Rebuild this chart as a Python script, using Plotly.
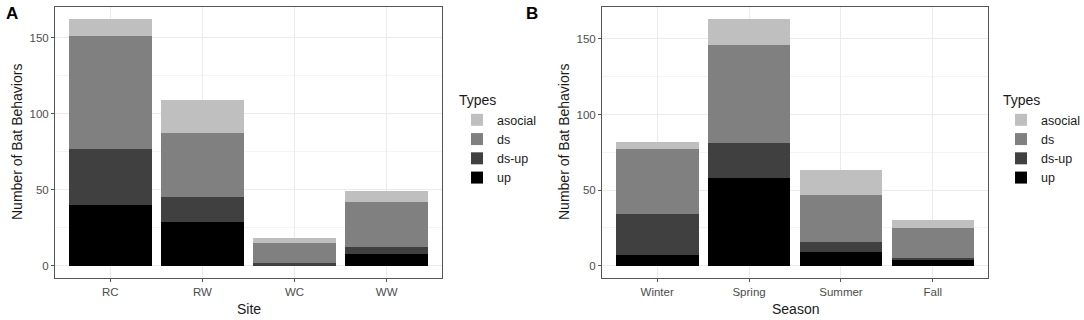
import plotly.graph_objects as go

types = ["up", "ds-up", "ds", "asocial"]
colors = {"up": "#000000", "ds-up": "#404040", "ds": "#808080", "asocial": "#bfbfbf"}

sites = ["RC", "RW", "WC", "WW"]
site_up = [40, 29, 0, 8]
site_dsup = [37, 16, 2, 4]
site_ds = [74, 42, 13, 30]
site_asocial = [11, 22, 3, 7]

seasons = ["Winter", "Spring", "Summer", "Fall"]
season_up = [7, 58, 9, 4]
season_dsup = [27, 23, 7, 1]
season_ds = [43, 65, 31, 20]
season_asocial = [5, 17, 16, 5]

site_vals = {"up": site_up, "ds-up": site_dsup, "ds": site_ds, "asocial": site_asocial}
season_vals = {"up": season_up, "ds-up": season_dsup, "ds": season_ds, "asocial": season_asocial}

fig = go.Figure()
for t in types:
    fig.add_trace(go.Bar(x=sites, y=site_vals[t], name=t, marker_color=colors[t],
                         marker_line_width=0, xaxis="x", yaxis="y", legend="legend",
                         width=0.9))
for t in types:
    fig.add_trace(go.Bar(x=seasons, y=season_vals[t], name=t, marker_color=colors[t],
                         marker_line_width=0, xaxis="x2", yaxis="y2", legend="legend2",
                         width=0.9))

W, H = 1084, 320
ax_common = dict(showline=True, mirror=True, linecolor="#555555", linewidth=1,
                 ticks="outside", ticklen=3, tickcolor="#555555",
                 tickfont=dict(family="Liberation Sans, Arial", size=11.5, color="#4d4d4d"),
                 showgrid=True, gridcolor="#ebebeb", gridwidth=1, zeroline=False)

yax = dict(ax_common, range=[-8.1, 170.1], tickvals=[0, 50, 100, 150],
           minor=dict(showgrid=True, gridcolor="#f4f4f4", tickvals=[25, 75, 125], ticks=""))
yax2 = dict(ax_common, range=[-8.15, 171.15], tickvals=[0, 50, 100, 150],
            minor=dict(showgrid=True, gridcolor="#f4f4f4", tickvals=[25, 75, 125], ticks=""))

legend_common = dict(xanchor="left", yanchor="top", traceorder="reversed",
                     xref="container", yref="container",
                     title=dict(text="Types", font=dict(size=14, color="#1a1a1a")),
                     font=dict(size=12.5, color="#1a1a1a"), bgcolor="rgba(0,0,0,0)")

fig.update_layout(
    width=W, height=H, margin=dict(l=0, r=0, t=0, b=0, autoexpand=False),
    paper_bgcolor="white", plot_bgcolor="white",
    barmode="stack", bargap=0.1,
    font=dict(family="Liberation Sans, Arial", color="#1a1a1a"),
    xaxis=dict(ax_common, domain=[55 / W, 442 / W], anchor="y", range=[-0.6, 3.6]),
    yaxis=dict(yax, domain=[1 - 278 / H, 1 - 7 / H], anchor="x"),
    xaxis2=dict(ax_common, domain=[602 / W, 988 / W], anchor="y2", range=[-0.6, 3.6]),
    yaxis2=dict(yax2, domain=[1 - 278 / H, 1 - 7 / H], anchor="x2"),
    legend=dict(legend_common, x=457 / W, y=1 - 87 / H),
    legend2=dict(legend_common, x=1001 / W, y=1 - 87 / H),
)

ann = [
    dict(text="<b>A</b>", x=4 / W, y=1 - 14 / H, xanchor="left", yanchor="middle", font=dict(size=17, color="black")),
    dict(text="<b>B</b>", x=524 / W, y=1 - 14 / H, xanchor="left", yanchor="middle", font=dict(size=17, color="black")),
    dict(text="Site", x=(55 + 442) / 2 / W, y=1 - 309 / H, xanchor="center", yanchor="middle", font=dict(size=14, color="#1a1a1a")),
    dict(text="Season", x=(602 + 988) / 2 / W, y=1 - 309 / H, xanchor="center", yanchor="middle", font=dict(size=14, color="#1a1a1a")),
    dict(text="Number of Bat Behaviors", x=17 / W, y=1 - 142 / H, textangle=-90, xanchor="center", yanchor="middle", font=dict(size=14, color="#1a1a1a")),
    dict(text="Number of Bat Behaviors", x=564 / W, y=1 - 142 / H, textangle=-90, xanchor="center", yanchor="middle", font=dict(size=14, color="#1a1a1a")),
]
for a in ann:
    a.update(xref="paper", yref="paper", showarrow=False)
fig.update_layout(annotations=ann)

fig.write_html("out.html", config={"displayModeBar": False},
               post_script="document.body.style.margin='0';document.body.style.overflow='hidden';")
